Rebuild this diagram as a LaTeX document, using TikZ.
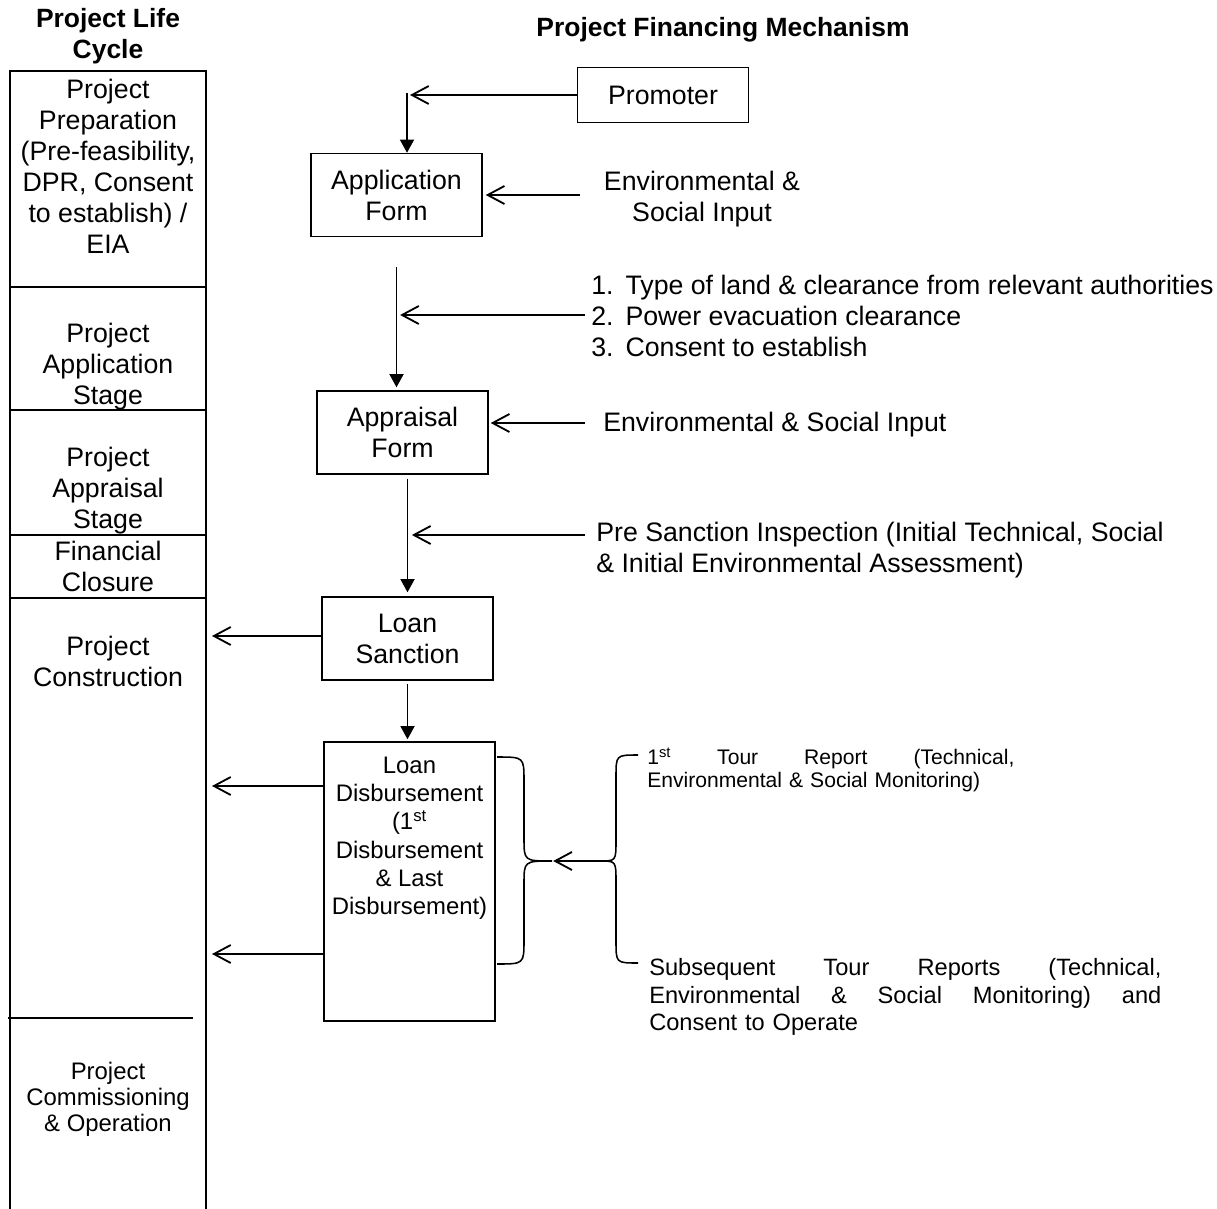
\documentclass[tikz,border=0pt]{standalone}
\usepackage{fontspec}
\setmainfont{Liberation Sans}
\usetikzlibrary{arrows.meta}

\begin{document}
\begin{tikzpicture}[x=0.025cm, y=-0.025cm,
        every node/.style={inner sep=0pt, font=\fontsize{19}{22}\selectfont},
        box/.style={draw, line width=1pt, minimum width=4.275cm, minimum height=2.075cm, align=center},
        openarr/.style={line width=1.3pt, -{Straight Barb[length=0.42cm, width=0.45cm]}},
        fillarr/.style={line width=1.3pt, -{Triangle[length=0.33cm, width=0.35cm]}}]
    \useasboundingbox (0,0) rectangle (1217,1209);

    \draw[line width=1.2pt] (10,1209) -- (10,71) -- (206,71) -- (206,1209);
    \foreach \y in {287,410,535,598} \draw[line width=1.2pt] (10,\y) -- (206,\y);
    \draw[line width=1.2pt] (8,1018) -- (193,1018);
    \coordinate (colr) at (212,71);

    \node[font=\fontsize{18.8}{22.5}\selectfont\bfseries, align=center] (lctitle) at (108,36) {Project Life\\Cycle};
    \node[font=\fontsize{18.8}{22.5}\selectfont\bfseries] (fmtitle) at (723,30) {Project Financing Mechanism};

    \node[align=center] (prep) at (108,166) {Project\\Preparation\\(Pre-feasibility,\\DPR, Consent\\to establish) /\\EIA};
    \node[align=center] (appstage) at (108,367) {Project\\Application\\Stage};
    \node[align=center] (apprstage) at (108,491) {Project\\Appraisal\\Stage};
    \node[align=center] (closure) at (108,566) {Financial\\Closure};
    \node[align=center] (constr) at (108,661) {Project\\Construction};
    \node[align=center, font=\fontsize{17}{18.5}\selectfont] (comm) at (108,1099) {Project\\Commissioning\\\& Operation};

    \node[box, minimum height=1.375cm] (promoter) at (663,95) {Promoter};
    \node[box] (appform) at (396.5,195) {Application\\Form};
    \node[box] (appraisal) at (402.5,432.5) {Appraisal\\Form};
    \node[box] (sanction) at (407.5,638.5) {Loan\\Sanction};
    \node[box, minimum height=6.975cm] (disb) at (409.5,881.5) {};
    \node[align=center, font=\fontsize{17}{20}\selectfont, anchor=north] (disbtext) at (409.5,757) {Loan\\Disbursement\\(1\textsuperscript{st}\\Disbursement\\\& Last\\Disbursement)};

    \node[align=center] (esin1) at (702,199) {Environmental \&\\Social Input};
    \node[anchor=west] (landlist) at (591,319) {\begin{tabular}{@{}l@{\hspace{8.5pt}}l@{}}1.&Type of land \& clearance from relevant authorities\\2.&Power evacuation clearance\\3.&Consent to establish\end{tabular}};
    \node[anchor=west] (esin2) at (603,425) {Environmental \& Social Input};
    \node[anchor=west, align=left] (presanct) at (596,550) {Pre Sanction Inspection (Initial Technical, Social\\\& Initial Environmental Assessment)};
    \node[anchor=west, text width=9.175cm, align=left, font=\fontsize{15}{16.4}\selectfont] (tour1) at (647,770)
        {\makebox[9.175cm]{1\textsuperscript{st}\hfill Tour\hfill Report\hfill (Technical,}\\Environmental \& Social Monitoring)};
    \node[anchor=west, text width=12.8cm, align=left, font=\fontsize{16.8}{19.6}\selectfont] (tour2) at (649,997)
        {\makebox[12.8cm]{Subsequent\hfill Tour\hfill Reports\hfill (Technical,}\\\makebox[12.8cm]{Environmental\hfill \&\hfill Social\hfill Monitoring)\hfill and}\\Consent to Operate};

    \coordinate (pjoin) at (407,93);
    \coordinate (esin1in) at (580,195);
    \coordinate (landin) at (585,315);
    \coordinate (esin2in) at (585,423);
    \coordinate (psin) at (585,535);
    \coordinate (dout1) at (212,786);
    \coordinate (dout2) at (212,954);
    \coordinate (btip) at (552,861);
    \coordinate (tourin) at (600,861);

    \draw[openarr, shorten >=0.075cm] (promoter.west) -- (promoter.west -| pjoin);
    \draw[fillarr] (pjoin) -- (pjoin |- appform.north);
    \draw[openarr, shorten >=0.075cm] (esin1in) -- (esin1in -| appform.east);
    \draw[fillarr, shorten <=0.75cm, shorten >=0.075cm] (appform.south) -- (appform.south |- appraisal.north);
    \draw[openarr, shorten >=0.09cm] (landin) -- (landin -| appform.south);
    \draw[openarr, shorten >=0.05cm] (esin2in) -- (esin2in -| appraisal.east);
    \draw[fillarr, shorten <=0.1cm, shorten >=0.1cm] (sanction.north |- appraisal.south) -- (sanction.north);
    \draw[openarr, shorten >=0.11cm] (psin) -- (psin -| sanction.north);
    \draw[openarr] (sanction.west |- 0,636) -- (colr |- 0,636);
    \draw[fillarr, shorten <=0.075cm, shorten >=0.05cm] (sanction.south) -- (sanction.south |- disb.north);
    \draw[openarr] (dout1 -| disb.west) -- (dout1);
    \draw[openarr] (dout2 -| disb.west) -- (dout2);

    \draw[line width=1.1pt] (497,757) .. controls (524,757) .. (524,781) -- (524,838) .. controls (524,861) .. (btip)
        .. controls (524,861) .. (524,884) -- (524,940) .. controls (524,964) .. (497,964);
    \draw[line width=1.1pt] (638,755) .. controls (616,755) .. (616,777) -- (616,840) .. controls (616,861) .. (tourin)
        .. controls (616,861) .. (616,882) -- (616,941) .. controls (616,963) .. (638,963);
    \draw[openarr, shorten >=0.03cm] (tourin) -- (btip);
\end{tikzpicture}
\end{document}
